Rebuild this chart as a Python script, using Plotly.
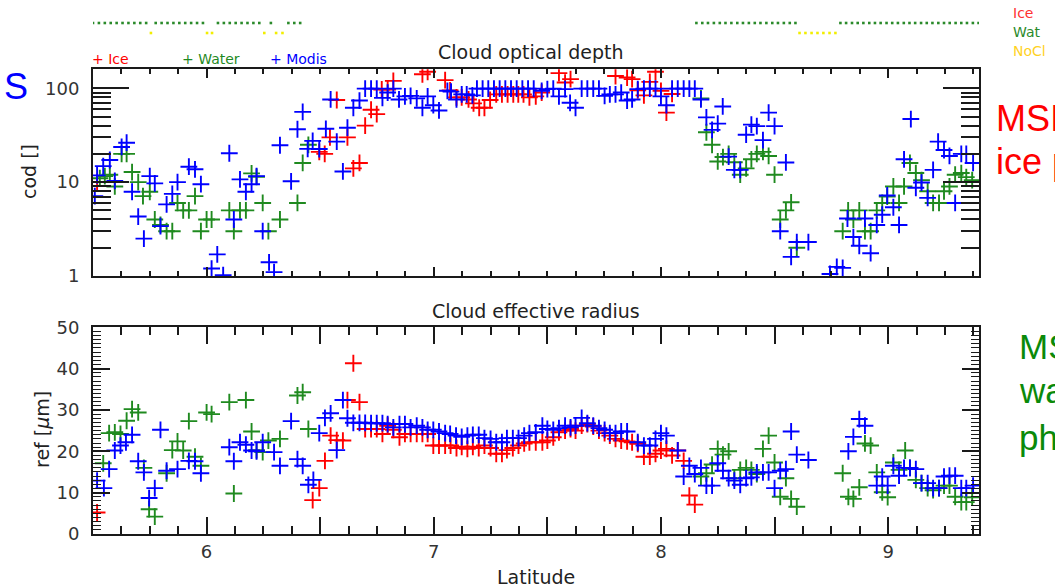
import plotly.graph_objects as go

W, H = 1055, 588

# ---------------- data ----------------
# Cloud optical depth
cod_ice_lat = [5.518, 6.496, 6.520, 6.543, 6.573, 6.620, 6.646, 6.673, 6.698, 6.724, 6.749, 6.771,
               6.797, 6.822, 6.950, 6.973, 7.050, 7.072, 7.100, 7.123, 7.153, 7.175, 7.200, 7.223,
               7.248, 7.275, 7.300, 7.325, 7.350, 7.372, 7.395, 7.421, 7.449, 7.475, 7.551, 7.578,
               7.602, 7.800, 7.851, 7.873, 7.898, 7.925, 7.951, 7.976, 8.000, 8.024, 8.049]
cod_ice = [10, 21, 20, 30, 75, 30, 14, 16, 40, 59, 53, 97,
           97, 120, 141, 150, 122, 95, 80, 80, 76, 69, 62, 62,
           75, 86, 86, 86, 86, 86, 86, 80, 82, 90, 145, 115,
           125, 135, 130, 125, 95, 84, 117, 150, 94, 55, 87]

cod_wat_lat = [5.530, 5.552, 5.574, 5.596, 5.626, 5.648, 5.672, 5.699, 5.720, 5.750, 5.772, 5.797,
               5.824, 5.849, 5.872, 5.897, 5.922, 5.949, 5.975, 6.000, 6.022, 6.100, 6.120, 6.147,
               6.173, 6.198, 6.220, 6.247, 6.272, 6.323, 6.400, 6.423, 6.448,
               8.176, 8.200, 8.225, 8.250, 8.273, 8.298, 8.323, 8.349, 8.375, 8.398, 8.422, 8.449,
               8.474, 8.500, 8.525, 8.550, 8.573, 8.598, 8.800, 8.824, 8.847, 8.873, 8.898, 8.923,
               8.950, 8.974, 8.996, 9.023, 9.048, 9.070, 9.096, 9.122, 9.147, 9.174, 9.198, 9.224,
               9.246, 9.270, 9.295, 9.322, 9.344, 9.370]
cod_wat = [11, 11.6, 12, 9, 20, 20, 12.8, 10, 7.1, 7.9, 4, 3.5,
           3, 3, 6, 5, 5, 7.1, 3, 4, 4, 5, 3, 5,
           5, 12.4, 11.4, 6, 3, 4, 6, 16, 25,
           78, 34, 25, 16.6, 18.5, 20, 16.3, 12, 14, 17.5, 20, 21,
           19, 12, 4, 5, 6.1, 2, 3, 5, 4, 5, 3, 3,
           5, 6, 7, 9, 6, 9, 16, 12.5, 10.5, 8, 6, 6,
           8, 9, 12, 12.5, 11.3, 10.5]

cod_mod_lat = [5.508, 5.518, 5.545, 5.574, 5.596, 5.626, 5.648, 5.672, 5.699, 5.724, 5.750, 5.772,
               5.797, 5.824, 5.849, 5.872, 5.922, 5.949, 5.975, 6.022, 6.047, 6.073, 6.100, 6.120,
               6.147, 6.173, 6.198, 6.220, 6.247, 6.275, 6.297, 6.323, 6.372, 6.400, 6.423, 6.445,
               6.467, 6.496, 6.525, 6.546, 6.573, 6.600, 6.620, 6.646, 6.673, 6.698, 6.724, 6.749,
               6.774, 6.797, 6.822, 6.847, 6.873, 6.898, 6.925, 6.950, 6.973, 6.998, 7.023, 7.060,
               7.076, 7.100, 7.123, 7.145, 7.170, 7.190, 7.215, 7.240, 7.265, 7.290, 7.315, 7.340,
               7.365, 7.390, 7.415, 7.440, 7.475, 7.500, 7.526, 7.551, 7.578, 7.600, 7.624, 7.651,
               7.676, 7.702, 7.727, 7.752, 7.775, 7.800, 7.825, 7.851, 7.873, 7.898, 7.925, 7.951,
               7.976, 8.000, 8.024, 8.049, 8.074, 8.100, 8.125, 8.149, 8.176, 8.200, 8.225, 8.250,
               8.272, 8.298, 8.323, 8.349, 8.375, 8.398, 8.422, 8.449, 8.474, 8.500, 8.525, 8.550,
               8.573, 8.598, 8.649, 8.744, 8.774, 8.800, 8.821, 8.847, 8.873, 8.898, 8.923, 8.950,
               8.974, 8.996, 9.023, 9.048, 9.070, 9.100, 9.122, 9.147, 9.174, 9.198, 9.220, 9.246,
               9.270, 9.295, 9.322, 9.344, 9.374]
cod_mod = [7.1, 11.8, 14.8, 17.2, 10.3, 23.7, 26.3, 7.9, 4.3, 2.5, 11.6, 9.7,
           3.4, 5.8, 7.5, 10.0, 14.6, 13.7, 9.5, 1.2, 1.7, 1.02, 20.3, 4.0,
           10.7, 7.9, 9.5, 11.6, 3.0, 1.4, 1.1, 24.7, 10.2, 36.6, 56, 22.6,
           27.5, 22.5, 37, 76, 27, 13, 38, 62, 74, 99, 99, 99,
           79, 90, 99, 76, 82, 83, 78, 62, 82, 66, 58, 94,
           92, 76, 86, 86, 84, 99, 99, 99, 99, 99, 99, 99,
           99, 99, 99, 99, 94, 98, 99, 82, 98, 70, 62, 99,
           99, 99, 99, 83, 86, 86, 90, 74, 76, 98, 99, 99,
           99, 82, 66, 99, 99, 99, 99, 99, 76, 49, 36, 42,
           64, 18.7, 13.5, 13.5, 32, 41, 39.5, 28, 55, 39.5, 3.0, 16.2,
           1.6, 2.3, 2.3, 1.05, 1.25, 1.22, 4.1, 2.6, 2.1, 4.1, 1.75, 3.5,
           4.5, 7.2, 5.4, 3.5, 17.5, 47, 8.7, 9.9, 6.8, 13.5, 27, 22,
           19, 6, 20, 20, 16]

# Cloud effective radius
ref_ice_lat = [5.518, 6.467, 6.496, 6.521, 6.546, 6.573, 6.600, 6.620, 6.646, 6.673, 6.698, 6.724,
               6.749, 6.774, 6.797, 6.822, 6.849, 6.873, 6.898, 6.925, 6.950, 6.973, 6.998, 7.023,
               7.050, 7.074, 7.100, 7.123, 7.148, 7.172, 7.198, 7.223, 7.250, 7.275, 7.300, 7.322,
               7.348, 7.373, 7.398, 7.421, 7.449, 7.478, 7.500, 7.526, 7.551, 7.578, 7.602, 7.624,
               7.651, 7.676, 7.702, 7.727, 7.752, 7.775, 7.800, 7.825, 7.851, 7.873, 7.898, 7.925,
               7.951, 7.976, 8.000, 8.024, 8.049, 8.074, 8.100, 8.125, 8.149]
ref_ice = [5.2, 8.2, 11.1, 17.7, 23.8, 22.7, 22.6, 32.4, 41.3, 31.9, 25.4, 25.4,
           25.4, 24.2, 26.2, 25.2, 23.4, 24.2, 24.2, 24.2, 24.2, 24.2, 21.4, 21.4,
           21.4, 21.4, 20.8, 21.1, 20.6, 21.1, 20.8, 21.4, 20.8, 19.4, 19.4, 20.3,
           20.8, 21.4, 21.9, 22.2, 22.2, 22.2, 22.6, 23.4, 24.6, 25.0, 25.4, 25.0,
           26.2, 26.6, 26.0, 25.0, 24.4, 23.8, 23.0, 22.6, 22.4, 22.2, 21.8, 18.7,
           18.7, 19.4, 20.2, 20.6, 19.0, 20.2, 17.7, 9.3, 7.1]

ref_wat_lat = [5.545, 5.571, 5.596, 5.621, 5.648, 5.672, 5.699, 5.724, 5.747, 5.772, 5.824, 5.849,
               5.872, 5.897, 5.922, 5.949, 5.975, 6.000, 6.022, 6.100, 6.120, 6.173, 6.198, 6.220,
               6.247, 6.272, 6.323, 6.400, 6.423, 6.448,
               8.176, 8.200, 8.225, 8.250, 8.273, 8.298, 8.323, 8.349, 8.375, 8.398, 8.422, 8.449,
               8.474, 8.500, 8.525, 8.550, 8.573, 8.598, 8.800, 8.825, 8.847, 8.873, 8.898, 8.923,
               8.950, 8.974, 8.998, 9.023, 9.048, 9.075, 9.096, 9.122, 9.147, 9.174, 9.198, 9.224,
               9.246, 9.270, 9.295, 9.322, 9.344, 9.370]
ref_wat = [17.1, 24.4, 24.6, 24.2, 27.4, 30.2, 29.4, 16, 6, 4.2, 14.7, 20.3,
           22.4, 20.2, 27.3, 18.7, 16.5, 29.4, 29, 31.9, 9.8, 32.4, 24.8, 20.3,
           19.8, 22.6, 23, 33.5, 34.3, 25.4,
           13.9, 14.7, 16.8, 20.6, 19.2, 20, 13.5, 15.5, 16, 15.5, 14.5, 20.6,
           23.8, 17.3, 9, 13.5, 8.5, 6.6, 14.7, 9, 8.5, 11.3, 21.9, 21.4,
           14.9, 10.1, 8.9, 17.3, 15.5, 20.2, 16, 13.1, 12.3, 11.1, 10.6, 11.1,
           11.7, 11.7, 9, 7.7, 7.7, 8.9]

ref_mod_lat = [5.518, 5.548, 5.571, 5.596, 5.621, 5.645, 5.672, 5.699, 5.724, 5.747, 5.772, 5.797,
               5.824, 5.872, 5.922, 5.949, 5.975, 6.100, 6.120, 6.147, 6.173, 6.198, 6.220, 6.247,
               6.297, 6.323, 6.372, 6.400, 6.423, 6.448, 6.470, 6.496, 6.521, 6.546, 6.573, 6.600,
               6.620, 6.646, 6.673, 6.698, 6.724, 6.749, 6.774, 6.797, 6.822, 6.849, 6.873, 6.898,
               6.925, 6.950, 6.973, 6.998, 7.023, 7.050, 7.072, 7.098, 7.123, 7.148, 7.172, 7.198,
               7.223, 7.250, 7.275, 7.300, 7.322, 7.348, 7.373, 7.398, 7.421, 7.449, 7.478, 7.500,
               7.526, 7.551, 7.578, 7.602, 7.624, 7.651, 7.676, 7.702, 7.727, 7.752, 7.775, 7.800,
               7.825, 7.851, 7.898, 7.925, 7.951, 7.976, 8.000, 8.024, 8.074, 8.100, 8.125, 8.149,
               8.176, 8.200, 8.225, 8.250, 8.273, 8.298, 8.323, 8.349, 8.375, 8.398, 8.422, 8.449,
               8.474, 8.500, 8.525, 8.550, 8.573, 8.598, 8.649, 8.825, 8.847, 8.873, 8.898, 8.950,
               8.974, 8.998, 9.023, 9.048, 9.070, 9.096, 9.122, 9.147, 9.174, 9.198, 9.224, 9.246,
               9.270, 9.295, 9.322, 9.344, 9.374]
ref_mod = [12.9, 11.1, 15.7, 20.2, 21.4, 22.2, 24, 17.6, 14.9, 8.7, 11.1, 25.2,
           15.3, 15.7, 17.7, 17.6, 14.7, 21, 17.6, 22.2, 21.6, 20.2, 20, 22.2,
           19.8, 16.5, 27.3, 18.1, 16.5, 11.9, 13.1, 24.4, 28.1, 29.2, 20.3, 32.4,
           28, 26.9, 26.9, 26.9, 26.8, 26.8, 26.8, 26.6, 25.8, 26.6, 26.6, 25.8,
           26.2, 25.8, 25.2, 25.2, 24.8, 24.4, 24.2, 23.8, 23.5, 23.8, 24, 24,
           23.2, 23, 22.2, 22.2, 23.2, 23.2, 23.2, 23.8, 24.4, 24.6, 26.2, 25.4,
           25.2, 25.6, 26.2, 25.8, 26.2, 28.1, 26.8, 26.2, 25.6, 25.2, 24.4, 24.4,
           24.8, 24.8, 22.2, 21.4, 21.4, 23, 24.4, 23.8, 20.2, 13.9, 16.5, 14.5,
           16, 11.7, 11.7, 17.1, 15.3, 13.5, 12.9, 11.9, 13.5, 13.7, 14.9, 14.9,
           14.9, 11.1, 15.3, 15.7, 24.8, 19.2, 17.9, 20, 23.5, 27.8, 26.2, 11.7,
           13.9, 11.7, 16.5, 14.1, 16, 16, 15.7, 12.3, 12.3, 11.1, 11.1, 13.9,
           14.1, 14.1, 11.1, 11.1, 11.7]

# Phase flag strip (latitudes flagged as water / no cloud)
flag_wat_lat = [5.500, 5.526, 5.552, 5.578, 5.604, 5.630, 5.656, 5.682, 5.708, 5.734,
                5.776, 5.802, 5.828, 5.854, 5.880, 5.906, 5.932, 5.958, 5.984,
                6.050, 6.076, 6.102, 6.128, 6.154, 6.180, 6.206, 6.232, 6.283,
                6.360, 6.386, 6.412,
                8.156, 8.182, 8.207, 8.233, 8.259, 8.284, 8.310, 8.336, 8.361, 8.387,
                8.413, 8.438, 8.464, 8.490, 8.515, 8.541, 8.567, 8.592,
                8.790, 8.815, 8.841, 8.866, 8.891, 8.917, 8.942, 8.967, 8.993, 9.018,
                9.043, 9.069, 9.094, 9.119, 9.145, 9.170, 9.195, 9.221, 9.246, 9.271,
                9.297, 9.322, 9.347, 9.373, 9.398]
flag_nocl_lat = [5.755, 6.002, 6.024, 6.254, 6.306, 6.334,
                 8.610, 8.636, 8.663, 8.689, 8.715, 8.742, 8.768]

x_range = [5.5, 9.4]
x_major = [6, 6.5, 7, 7.5, 8, 8.5, 9]
x_major_text = ["6", "", "7", "", "8", "", "9"]
cod_ticks = [1, 10, 100]
cod_minor = [2, 3, 4, 5, 6, 7, 8, 9, 20, 30, 40, 50, 60, 70, 80, 90]

RED, GREEN, BLUE = "#ff0000", "#1f8a1f", "#0000ff"

# ---------------- helpers for layout positions ----------------
def px(x):
    return x / W

def py(y):
    return 1 - y / H

XDOM = [px(93), px(979)]
AX = "#1a1a1a"
FONT = "DejaVu Sans"

fig = go.Figure()

def cross(x, y, color, xa, ya, name):
    fig.add_trace(go.Scatter(
        x=x, y=y, mode="markers", name=name, showlegend=False,
        xaxis=xa, yaxis=ya,
        marker=dict(symbol="cross-thin", size=12, color=color,
                    line=dict(width=1.9, color=color))))

# strip
fig.add_trace(go.Scatter(x=flag_wat_lat, y=[2] * len(flag_wat_lat), mode="markers",
                         showlegend=False, xaxis="x", yaxis="y",
                         marker=dict(symbol="square", size=2.6, color="#2a8a2a")))
fig.add_trace(go.Scatter(x=flag_nocl_lat, y=[1] * len(flag_nocl_lat), mode="markers",
                         showlegend=False, xaxis="x", yaxis="y",
                         marker=dict(symbol="square", size=2.6, color="#f2ee00")))

cross(cod_ice_lat, cod_ice, RED, "x2", "y2", "Ice")
cross(cod_wat_lat, cod_wat, GREEN, "x2", "y2", "Water")
cross(cod_mod_lat, cod_mod, BLUE, "x2", "y2", "Modis")
cross(ref_ice_lat, ref_ice, RED, "x3", "y3", "Ice")
cross(ref_wat_lat, ref_wat, GREEN, "x3", "y3", "Water")
cross(ref_mod_lat, ref_mod, BLUE, "x3", "y3", "Modis")

common_x = dict(range=x_range, domain=XDOM, showgrid=False, zeroline=False, automargin=False,
                showline=True, linecolor=AX, linewidth=2, mirror="ticks",
                ticks="inside", tickcolor=AX, tickwidth=1.5,
                tickmode="array", tickvals=x_major, ticktext=x_major_text)

fig.update_layout(
    width=W, height=H, margin=dict(l=0, r=0, t=0, b=0, autoexpand=False),
    paper_bgcolor="white", plot_bgcolor="white",
    font=dict(family=FONT, size=18, color="#333"),
    xaxis=dict(range=x_range, domain=XDOM, visible=False, anchor="y", automargin=False),
    yaxis=dict(range=[0.5, 3.5], domain=[py(38), py(8)], visible=False, anchor="x",
               automargin=False),
    xaxis2=dict(common_x, anchor="y2", ticklen=9, showticklabels=False,
                minor=dict(ticks="inside", dtick=0.125, tick0=5.5, ticklen=5,
                           tickwidth=1.5, tickcolor=AX)),
    yaxis2=dict(type="log", range=[0, 2.202], domain=[py(276), py(69.3)], anchor="x2",
                automargin=False,
                showgrid=False, zeroline=False, showline=True, linecolor=AX, linewidth=2,
                mirror="ticks", ticks="inside", ticklen=36, tickwidth=1.5, tickcolor=AX,
                tickmode="array", tickvals=cod_ticks, ticktext=[str(v) for v in cod_ticks],
                ticklabelstandoff=8,
                minor=dict(ticks="inside", tickmode="array", tickvals=cod_minor,
                           ticklen=18, tickwidth=1.5, tickcolor=AX)),
    xaxis3=dict(common_x, anchor="y3", ticklen=17, tickfont=dict(size=18),
                minor=dict(ticks="inside", dtick=0.125, tick0=5.5, ticklen=8,
                           tickwidth=1.5, tickcolor=AX)),
    yaxis3=dict(range=[0, 50], domain=[py(534), py(327.3)], anchor="x3", automargin=False,
                showgrid=False, zeroline=False, showline=True, linecolor=AX, linewidth=2,
                mirror="ticks", ticks="inside", ticklen=17, tickwidth=1.5, tickcolor=AX,
                tickmode="array", tickvals=[0, 10, 20, 30, 40, 50],
                ticklabelstandoff=8,
                minor=dict(ticks="inside", dtick=1, ticklen=8, tickwidth=1.2, tickcolor=AX)),
)

ann = []

def text(x, y, s, size, color, xanchor="center", yanchor="middle", angle=0, family=FONT):
    ann.append(dict(x=px(x), y=py(y), xref="paper", yref="paper", text=s, showarrow=False,
                    xanchor=xanchor, yanchor=yanchor, textangle=angle,
                    font=dict(family=family, size=size, color=color)))

text(530, 52, "Cloud optical depth", 19, "#222")
text(536, 311, "Cloud effective radius", 19, "#222")
text(536, 577, "Latitude", 19, "#222")
text(29, 172, "cod []", 19, "#222", angle=-90)
text(42, 430, "ref [<i>μ</i>m]", 19, "#222", angle=-90)
# legend
text(90, 59, "+ Ice", 14, RED, xanchor="left")
text(180, 59, "+ Water", 14, GREEN, xanchor="left")
text(268, 59, "+ Modis", 14, BLUE, xanchor="left")
# strip labels
text(1011, 13, "Ice", 14, "#ff3030", xanchor="left")
text(1011, 32, "Wat", 14, "#2a8a2a", xanchor="left")
text(1011, 51, "NoCl", 14, "#ffd21f", xanchor="left")
# slide text around the chart
text(2, 86, "S", 36, "#0000ff", xanchor="left", family="Liberation Sans")
text(994, 119, "MSI", 36, "#ff0000", xanchor="left", family="Liberation Sans")
text(994, 162, "ice phase", 36, "#ff0000", xanchor="left", family="Liberation Sans")
text(1017, 346, "MSI", 35, "#0a8a0a", xanchor="left", family="Liberation Sans")
text(1017, 390, "water", 35, "#0a8a0a", xanchor="left", family="Liberation Sans")
text(1017, 437, "phase", 35, "#0a8a0a", xanchor="left", family="Liberation Sans")
fig.update_layout(annotations=ann)

fig.write_html("out.html", config={"displayModeBar": False},
               post_script="document.body.style.margin='0';")
